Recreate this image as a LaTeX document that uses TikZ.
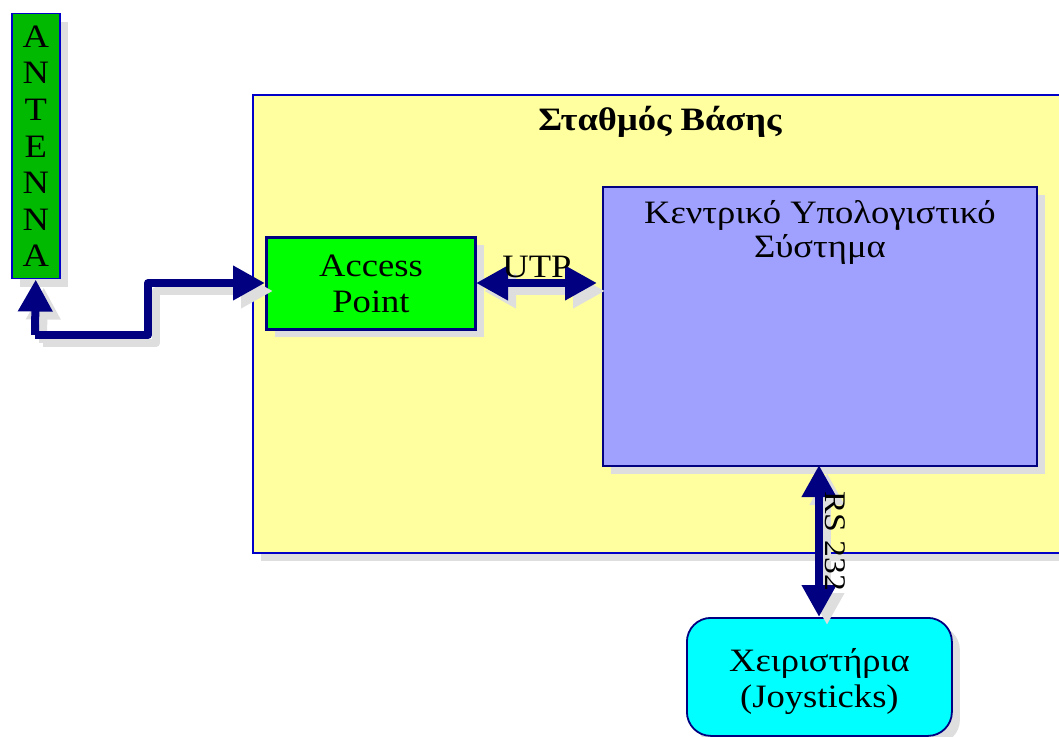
\documentclass[tikz,border=0pt]{standalone}
\usepackage{fontspec}
\setmainfont{Liberation Serif}[FakeStretch=1.12]
\usetikzlibrary{arrows.meta,shadows,positioning}
\newdimen\pxu \pxu=0.75pt
\definecolor{linkblue}{RGB}{0,0,128}
\definecolor{framebl}{RGB}{0,0,200}
\definecolor{shadowgr}{RGB}{222,222,222}
\definecolor{basefill}{RGB}{255,255,160}
\definecolor{antgreen}{RGB}{0,185,0}
\definecolor{apgreen}{RGB}{0,255,0}
\definecolor{cpufill}{RGB}{160,160,255}
\definecolor{joycyan}{RGB}{0,255,255}
\newcommand\diagsize{\fontsize{24.5}{27}\selectfont}
\tikzset{
  boxshadow/.style={drop shadow={shadow xshift=8\pxu, shadow yshift=-8\pxu, fill=shadowgr, opacity=1}},
  block/.style={draw=linkblue, rectangle, inner sep=0pt, align=center,
    font=\diagsize, boxshadow},
  link/.style={line width=6pt, line join=round,
    -{Triangle[width=24.5pt,length=24pt]}},
  dlink/.style={line width=6pt,
    {Triangle[width=24.5pt,length=24pt]}-{Triangle[width=24.5pt,length=24pt]}},
  lbl/.style={font=\diagsize, inner sep=0pt},
}
\begin{document}
\begin{tikzpicture}[x=0.75pt,y=-0.75pt]
\useasboundingbox (0,0) rectangle (1059,737);

% base station frame (runs off the right edge)
\fill[shadowgr] (261,103) rectangle (1070,561);
\draw[framebl, line width=1.5\pxu, fill=basefill] (253,95) rectangle (1070,553);
\node[font=\diagsize\bfseries] (title) at (660,122) {Σταθμός Βάσης};

% blocks
\node[block, fill=antgreen, draw=framebl, line width=1.5\pxu,
  minimum width=48\pxu, minimum height=265\pxu, anchor=north west,
  font=\fontsize{24.5}{27.4}\selectfont] (ant) at (11,13)
  {A\\N\\T\\E\\N\\N\\A};
\node[block, fill=apgreen, line width=3\pxu,
  minimum width=209\pxu, minimum height=92\pxu, anchor=north west] (ap) at (265,236)
  {Access\\Point};
\node[block, fill=cpufill, line width=1.8\pxu,
  minimum width=434\pxu, minimum height=279\pxu, anchor=north west] (cpu) at (602,186) {};
\node[lbl, anchor=north, align=center] (cputxt) at (cpu.north) [yshift=-14\pxu]
  {Κεντρικό Υπολογιστικό\\[-1pt]Σύστημα};
\node[block, fill=joycyan, line width=1.8\pxu, rounded corners=24\pxu,
  minimum width=265\pxu, minimum height=118\pxu, anchor=north west] (joy) at (686,617) {};
\node[lbl, align=center] (joytxt) at (joy.center) [yshift=-5\pxu]
  {Χειριστήρια\\(Joysticks)};

% connector end points
\coordinate (antfoot) at (35,335);
\coordinate (bendA) at (148,335);
\coordinate (bendB) at (148,283);
\coordinate (apin) at (ap.west |- bendB);
\coordinate (apout) at (476,283);
\coordinate (cpuin) at (597,283);
\coordinate (cpuout) at (819,465);
\coordinate (joyin) at (cpuout |- joy.north);

% connector shadows
\begin{scope}[transform canvas={shift={(8,8)}}, draw=shadowgr, color=shadowgr]
  \draw[link] (antfoot) -- (bendA) -- (bendB) -- (apin);
  \draw[link] (antfoot) -- (ant.south);
  \draw[dlink] (apout) -- (cpuin);
  \draw[dlink] (cpuout) -- (joyin);
\end{scope}

% connectors
\begin{scope}[draw=linkblue, color=linkblue]
  \draw[link] (antfoot) -- (bendA) -- (bendB) -- (apin);
  \draw[link] (antfoot) -- (ant.south);
  \draw[dlink] (apout) -- (cpuin);
  \draw[dlink] (cpuout) -- (joyin);
\end{scope}

% link labels
\node[lbl, anchor=base] (utp) at (537,278) {UTP};
\node[lbl, font=\fontsize{22.5}{27}\selectfont, rotate=-90, anchor=base west] (rs) at (825,491) {RS 232};
\end{tikzpicture}
\end{document}
